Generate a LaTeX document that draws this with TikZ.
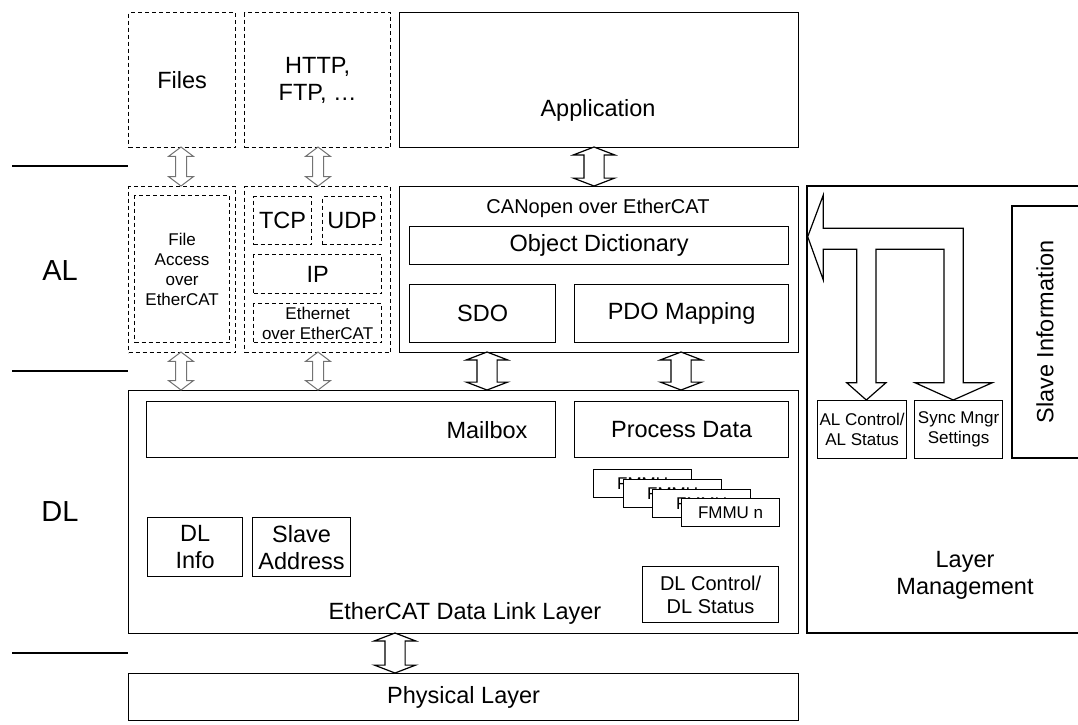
\documentclass[tikz,border=0pt]{standalone}
\usepackage{fontspec}
\setmainfont{Liberation Sans}
\usetikzlibrary{shapes.arrows}
\tikzset{
  box/.style={draw,line width=1.2pt,inner sep=0pt,align=center,anchor=north west,fill=white},
  dbox/.style={box,dash pattern=on 4pt off 3pt},
  bigtxt/.style={font=\fontsize{23.5}{27}\selectfont,align=center},
  midtxt/.style={font=\fontsize{20}{23}\selectfont,align=center},
  smalltxt/.style={font=\fontsize{17}{20}\selectfont,align=center},
  layertxt/.style={font=\fontsize{29}{32}\selectfont},
  sepline/.style={line width=1.2pt},
  bigarrow/.style={double arrow,draw,fill=white,line width=1.2pt,rotate=90,
    inner xsep=0pt,inner ysep=9.5pt,double arrow head extend=10.5pt,
    double arrow tip angle=138,minimum width=40pt},
  garrow/.style={double arrow,draw=black!55,fill=white,line width=1pt,rotate=90,
    inner xsep=0pt,inner ysep=5pt,double arrow head extend=7pt,
    double arrow tip angle=106,minimum width=24pt}
}
\begin{document}
\begin{tikzpicture}[x=1pt,y=-1pt,line join=miter]
  \useasboundingbox (0,0) rectangle (1078,724);

  % layer separators
  \draw[sepline] (12,166) -- (128,166);
  \draw[sepline] (12,371) -- (128,371);
  \draw[sepline] (12,653) -- (128,653);
  \node[layertxt] (al) at (60,271) {AL};
  \node[layertxt] (dlname) at (60,512) {DL};

  % top row
  \node[dbox,bigtxt,minimum width=107pt,minimum height=135pt] (files) at (128,12) {Files};
  \node[dbox,bigtxt,minimum width=146pt,minimum height=135pt] (http) at (244,12) {HTTP,\\FTP, …};
  \node[box,minimum width=399pt,minimum height=135pt] (app) at (399,12) {};
  \node[bigtxt] (apptxt) at (598,110) {Application};

  % application layer
  \node[dbox,minimum width=107pt,minimum height=166pt] (foebox) at (128,186) {};
  \node[dbox,smalltxt,minimum width=95pt,minimum height=147pt] (foe) at (134,195) {File\\Access\\over\\EtherCAT};
  \node[dbox,minimum width=146pt,minimum height=166pt] (eoebox) at (244,186) {};
  \node[dbox,bigtxt,minimum width=58pt,minimum height=48pt] (tcp) at (253,196) {TCP};
  \node[dbox,bigtxt,minimum width=59pt,minimum height=48pt] (udp) at (322,196) {UDP};
  \node[dbox,bigtxt,minimum width=128pt,minimum height=39pt] (ip) at (253,254) {IP};
  \node[dbox,smalltxt,minimum width=128pt,minimum height=39pt] (eoe) at (253,303) {Ethernet\\over EtherCAT};
  \node[box,minimum width=399pt,minimum height=166pt] (coe) at (399,186) {};
  \node[midtxt] (coetxt) at (598,208) {CANopen over EtherCAT};
  \node[box,bigtxt,minimum width=379pt,minimum height=38pt] (od) at (409,226) {Object Dictionary};
  \node[box,bigtxt,minimum width=146pt,minimum height=58pt] (sdo) at (409,284) {SDO};
  \node[box,bigtxt,minimum width=214pt,minimum height=58pt] (pdo) at (574,284) {PDO Mapping};

  % data link layer
  \node[box,minimum width=670pt,minimum height=243pt] (dl) at (128,390) {};
  \node[bigtxt] (dltxt) at (465,613) {EtherCAT Data Link Layer};
  \node[box,minimum width=409pt,minimum height=56pt] (mbx) at (146,401) {};
  \node[bigtxt] (mbxtxt) at (487,430) {Mailbox};
  \node[box,bigtxt,minimum width=214pt,minimum height=56pt] (pd) at (574,401) {Process Data};
  \node[box,smalltxt,minimum width=98pt,minimum height=28pt] (fmmua) at (593,469) {FMMU};
  \node[box,smalltxt,minimum width=98pt,minimum height=28pt] (fmmub) at (623,479) {FMMU};
  \node[box,smalltxt,minimum width=98pt,minimum height=28pt] (fmmuc) at (652,489) {FMMU};
  \node[box,smalltxt,minimum width=98pt,minimum height=28pt] (fmmun) at (681,498) {FMMU n};
  \node[box,bigtxt,minimum width=95pt,minimum height=59pt] (dlinfo) at (147,517) {DL\\Info};
  \node[box,bigtxt,minimum width=98pt,minimum height=59pt] (addr) at (252,517) {Slave\\Address};
  \node[box,midtxt,minimum width=136pt,minimum height=56pt] (dlctrl) at (642,566) {DL Control/\\DL Status};

  % physical layer
  \node[box,bigtxt,minimum width=670pt,minimum height=47pt] (phys) at (128,673) {Physical Layer};

  % layer management
  \draw[sepline] (1078,186) -- (807,186) -- (807,633) -- (1078,633);
  \node[bigtxt] (lmtxt) at (965,575) {Layer\\Management};
  \draw[sepline] (1078,206) -- (1012,206) -- (1012,458) -- (1078,458);
  \node[bigtxt,rotate=90] (slinfo) at (1045,332) {Slave Information};
  \node[box,smalltxt,minimum width=89pt,minimum height=58pt] (alctrl) at (817,400) {AL Control/\\AL Status};
  \node[box,smalltxt,minimum width=88pt,minimum height=58pt] (sync) at (914,400) {Sync Mngr\\Settings};
  \draw[sepline] (823.3,228.3) -- (963.3,228.3) -- (963.3,382.7) -- (992.3,382.7)
    -- (953.3,400) -- (915,382.7) -- (944,382.7) -- (944,249.3) -- (876,249.3)
    -- (876,382.7) -- (886,382.7) -- (866.3,400) -- (846.7,382.7) -- (856.7,382.7)
    -- (856.7,249.3) -- (823.3,249.3) -- (823.3,280) -- (807.7,236.7)
    -- (823.3,195) -- cycle;

  % arrows between layers
  \node[garrow,minimum height=39pt] (arfiles) at (181,166.5) {};
  \node[garrow,minimum height=39pt] (arhttp) at (318,166.5) {};
  \node[bigarrow,minimum height=39pt] (arapp) at (594,166.5) {};
  \node[garrow,minimum height=38pt] (arfoe) at (181,371) {};
  \node[garrow,minimum height=38pt] (areoe) at (318,371) {};
  \node[bigarrow,minimum height=38pt] (arsdo) at (487,371) {};
  \node[bigarrow,minimum height=38pt] (arpdo) at (681,371) {};
  \node[bigarrow,minimum height=40pt] (arphys) at (395,653) {};
\end{tikzpicture}
\end{document}
